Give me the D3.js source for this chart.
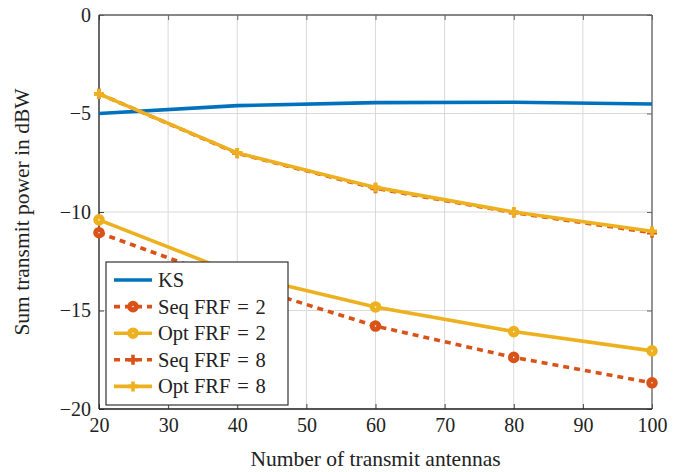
<!DOCTYPE html>
<html>
<head>
<meta charset="utf-8">
<script src="https://d3js.org/d3.v7.min.js"></script>
<style>
  body { margin: 0; background: #fff; }
</style>
</head>
<body>
<div id="chart"></div>
<script>
// antennas on the x axis
var antennas = [20, 40, 60, 80, 100];
// sum transmit power in dBW, one array per curve
var ks      = [-5.0, -4.6, -4.45, -4.43, -4.52];
var seqFrf2 = [-11.05, -13.6, -15.79, -17.38, -18.67];
var optFrf2 = [-10.4, -13.15, -14.82, -16.07, -17.05];
var seqFrf8 = [-4.0, -7.02, -8.8, -10.03, -11.05];
var optFrf8 = [-4.0, -7.0, -8.75, -10.0, -10.98];

var xTicks = [20, 30, 40, 50, 60, 70, 80, 90, 100];
var yTicks = [0, -5, -10, -15, -20];

var series = [
  { name: "KS",                       values: ks,      color: "#0072bd", dash: null,  marker: null },
  { name: "Seq FRF\u2004=\u20042",    values: seqFrf2, color: "#d95319", dash: "6,5", marker: "circle" },
  { name: "Opt FRF\u2004=\u20042",    values: optFrf2, color: "#edb120", dash: null,  marker: "circle" },
  { name: "Seq FRF\u2004=\u20048",    values: seqFrf8, color: "#d95319", dash: "6,5", marker: "plus" },
  { name: "Opt FRF\u2004=\u20048",    values: optFrf8, color: "#edb120", dash: null,  marker: "plus" }
];

var W = 684, H = 472;
var m = { left: 99, right: 32, top: 15, bottom: 63 };
var iw = W - m.left - m.right, ih = H - m.top - m.bottom;
var serif = "'Liberation Serif', 'Times New Roman', serif";

var svg = d3.select("#chart").append("svg").attr("width", W).attr("height", H);
var g = svg.append("g").attr("transform", "translate(" + m.left + "," + m.top + ")");

var x = d3.scaleLinear().domain([20, 100]).range([0, iw]);
var y = d3.scaleLinear().domain([-20, 0]).range([ih, 0]);

// grid
g.selectAll(".gx").data(xTicks).enter().append("line")
  .attr("x1", d => x(d)).attr("x2", d => x(d)).attr("y1", 0).attr("y2", ih)
  .attr("stroke", "#d9d9d9").attr("stroke-width", 1);
g.selectAll(".gy").data(yTicks).enter().append("line")
  .attr("x1", 0).attr("x2", iw).attr("y1", d => y(d)).attr("y2", d => y(d))
  .attr("stroke", "#d9d9d9").attr("stroke-width", 1);

// axes, ticks pointing inward
var fmt = d => d < 0 ? "\u2212" + Math.abs(d) : String(d);
var xAxis = g.append("g").attr("transform", "translate(0," + ih + ")")
  .call(d3.axisBottom(x).tickValues(xTicks).tickSize(-5).tickPadding(9).tickFormat(fmt));
var yAxis = g.append("g")
  .call(d3.axisLeft(y).tickValues(yTicks).tickSize(-5).tickPadding(8).tickFormat(fmt));
[xAxis, yAxis].forEach(function (a) {
  a.attr("font-family", serif);
  a.select(".domain").remove();
  a.selectAll(".tick line").attr("stroke", "#444");
  a.selectAll(".tick text").style("font-family", serif).style("font-size", "20px").attr("fill", "#222");
});
g.append("g")
  .call(d3.axisBottom(x).tickValues(xTicks).tickSize(5).tickFormat(""))
  .call(a => a.select(".domain").remove())
  .selectAll(".tick line").attr("stroke", "#666");
g.append("g").attr("transform", "translate(" + iw + ",0)")
  .call(d3.axisRight(y).tickValues(yTicks).tickSize(-5).tickFormat(""))
  .call(a => a.select(".domain").remove())
  .selectAll(".tick line").attr("stroke", "#666");

// frame
g.append("line").attr("x1", 0).attr("x2", iw).attr("y1", 0).attr("y2", 0).attr("stroke", "#666").attr("stroke-width", 1.3);
g.append("line").attr("x1", iw).attr("x2", iw).attr("y1", 0).attr("y2", ih).attr("stroke", "#666").attr("stroke-width", 1.3);
g.append("line").attr("x1", 0).attr("x2", 0).attr("y1", 0).attr("y2", ih).attr("stroke", "#222").attr("stroke-width", 1.3);
g.append("line").attr("x1", 0).attr("x2", iw).attr("y1", ih).attr("y2", ih).attr("stroke", "#222").attr("stroke-width", 1.3);

var line = d3.line().x(d => x(d[0])).y(d => y(d[1]));

function drawMarker(sel, type, color) {
  if (type === "circle") {
    sel.append("circle").attr("r", 3.3).attr("fill", "#fff")
      .attr("stroke", color).attr("stroke-width", 5);
  } else if (type === "plus") {
    sel.append("path").attr("d", "M-5,0H5M0,-5V5")
      .attr("stroke", color).attr("stroke-width", 3.6).attr("fill", "none");
  }
}

series.forEach(function (s) {
  var pts = antennas.map((a, i) => [a, s.values[i]]);
  g.append("path").datum(pts).attr("d", line)
    .attr("fill", "none").attr("stroke", s.color).attr("stroke-width", 3.6)
    .attr("stroke-dasharray", s.dash);
  if (s.marker) {
    g.selectAll(null).data(pts).enter().append("g")
      .attr("transform", d => "translate(" + x(d[0]) + "," + y(d[1]) + ")")
      .each(function () { drawMarker(d3.select(this), s.marker, s.color); });
  }
});

// legend
var lg = svg.append("g").attr("transform", "translate(106,262)");
lg.append("rect").attr("width", 182).attr("height", 143)
  .attr("fill", "#fff").attr("stroke", "#333").attr("stroke-width", 1.2);
series.forEach(function (s, i) {
  var row = lg.append("g").attr("transform", "translate(0," + (18 + i * 26.6) + ")");
  row.append("line").attr("x1", 8).attr("x2", 46).attr("y1", 0).attr("y2", 0)
    .attr("stroke", s.color).attr("stroke-width", 3.6).attr("stroke-dasharray", s.dash);
  if (s.marker) drawMarker(row.append("g").attr("transform", "translate(27,0)"), s.marker, s.color);
  row.append("text").attr("x", 52).attr("y", 7).style("font-family", serif)
    .style("font-size", "20.5px").attr("fill", "#222").text(s.name);
});

// axis titles
svg.append("text").attr("x", m.left + iw / 2).attr("y", 466).attr("text-anchor", "middle")
  .style("font-family", serif).style("font-size", "21.5px").attr("fill", "#222")
  .text("Number of transmit antennas");
svg.append("text").attr("transform", "translate(29," + (m.top + ih / 2) + ") rotate(-90)")
  .attr("text-anchor", "middle").style("font-family", serif).attr("fill", "#222")
  .style("font-size", "21.5px").text("Sum transmit power in dBW");
</script>
</body>
</html>
